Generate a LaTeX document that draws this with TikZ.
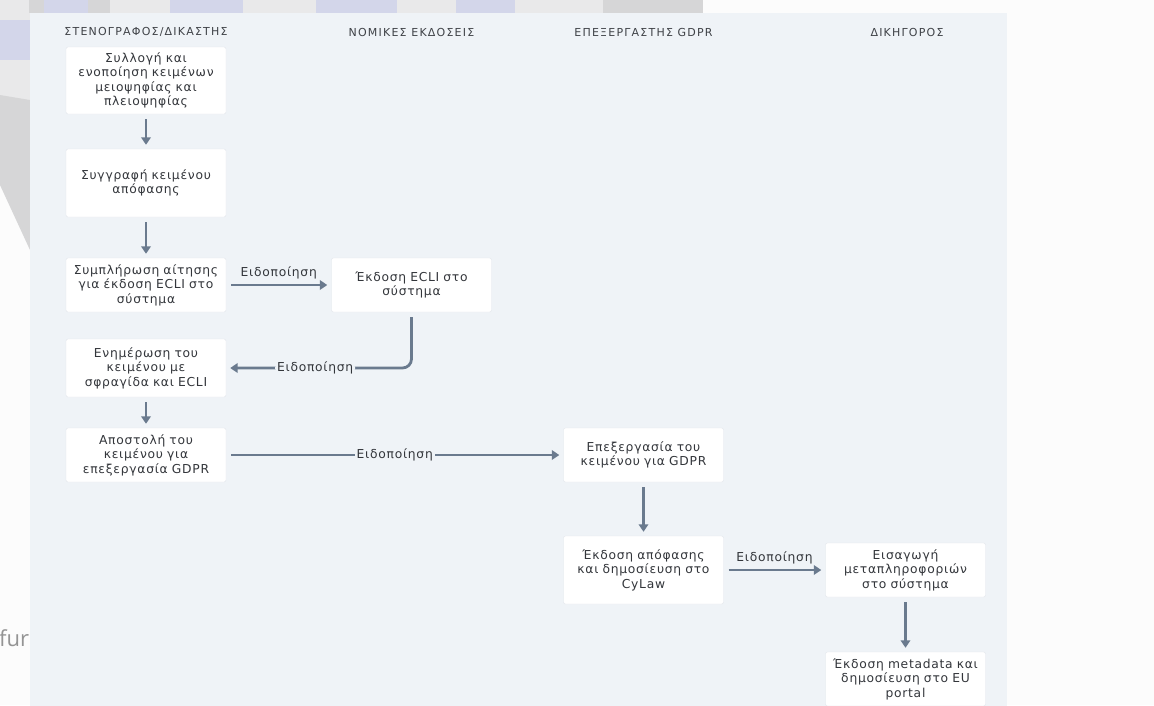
\documentclass[tikz,border=0pt]{standalone}
\usepackage{fontspec}
\setmainfont{DejaVu Sans}
\newfontfamily\boxfont[LetterSpace=6]{DejaVu Sans}
\newfontfamily\headfont[LetterSpace=11]{DejaVu Sans}
\newfontfamily\bgfont{Open Sans}
\usetikzlibrary{arrows.meta}
\definecolor{panel}{HTML}{EFF3F7}
\definecolor{txt}{HTML}{33363B}
\definecolor{hdr}{HTML}{3F4247}
\definecolor{arr}{HTML}{6A7A8E}
\definecolor{lav}{HTML}{D3D6EA}
\definecolor{lg}{HTML}{E9E9EA}
\definecolor{mg}{HTML}{D6D6D7}
\definecolor{edge}{HTML}{E2E6EB}
\tikzset{
  box/.style={fill=white, draw=edge, line width=0.4pt, rounded corners=2pt,
    minimum width=160pt, text width=158pt, align=center, inner sep=0pt,
    font=\boxfont\fontsize{12.3}{14.5}\selectfont, text=txt},
  hd/.style={font=\headfont\fontsize{11}{12}\selectfont, text=hdr, inner sep=0pt},
  conn/.style={draw=arr, line width=2.8pt, -{Triangle[length=7.5pt,width=9.5pt]},
    shorten <=5pt, shorten >=4pt},
  lbl/.style={font=\boxfont\fontsize{12.3}{12}\selectfont, text=txt, inner sep=2pt},
  onlbl/.style={lbl, fill=panel}
}
\begin{document}
\begin{tikzpicture}[x=1pt,y=-1pt]
\useasboundingbox (0,0) rectangle (1154,705);
\clip (0,0) rectangle (1154,705);
% background (blurred screenshot behind)
\fill[white!99!black] (0,0) rectangle (1154,705);
\fill[lg] (0,0) rectangle (30,100);
\fill[mg] (0,95) -- (30,100) -- (30,250) -- (0,185) -- cycle;
\fill[lav] (0,20) rectangle (30,60);
\fill[lg] (0,0) rectangle (29,13);
\fill[mg] (29,0) rectangle (44,13);
\fill[lav] (44,0) rectangle (88,13);
\fill[mg] (88,0) rectangle (110,13);
\fill[lg] (110,0) rectangle (170,13);
\fill[lav] (170,0) rectangle (243,13);
\fill[lg] (243,0) rectangle (316,13);
\fill[lav] (316,0) rectangle (397,13);
\fill[lg] (397,0) rectangle (456,13);
\fill[lav] (456,0) rectangle (515,13);
\fill[lg] (515,0) rectangle (603,13);
\fill[mg] (603,0) rectangle (703,13);
\node[anchor=base west, inner sep=0pt, font=\bgfont\fontsize{22}{24}\selectfont, text=black!42] (fur) at (-1,646) {fur};
% panel
\fill[panel] (30,13) rectangle (1007,710);
% headers
\node[hd] (h1) at (146,32) {ΣΤΕΝΟΓΡΑΦΟΣ/ΔΙΚΑΣΤΗΣ};
\node[hd] (h2) at (411.5,32) {ΝΟΜΙΚΕΣ ΕΚΔΟΣΕΙΣ};
\node[hd] (h3) at (643.5,32) {ΕΠΕΞΕΡΓΑΣΤΗΣ GDPR};
\node[hd] (h4) at (907,32) {ΔΙΚΗΓΟΡΟΣ};
% boxes
\node[box, minimum height=67pt] (b1) at (146,80.5) {Συλλογή και\\ενοποίηση κειμένων\\μειοψηφίας και\\πλειοψηφίας};
\node[box, minimum height=68pt] (b2) at (146,183) {Συγγραφή κειμένου\\απόφασης};
\node[box, minimum height=54pt] (b3) at (146,285) {Συμπλήρωση αίτησης\\για έκδοση ECLI στο\\σύστημα};
\node[box, minimum height=54pt] (e1) at (411.5,285) {Έκδοση ECLI στο\\σύστημα};
\node[box, minimum height=58pt] (b4) at (146,368) {Ενημέρωση του\\κειμένου με\\σφραγίδα και ECLI};
\node[box, minimum height=54pt] (b5) at (146,455) {Αποστολή του\\κειμένου για\\επεξεργασία GDPR};
\node[box, minimum height=54pt] (g1) at (643.5,455) {Επεξεργασία του\\κειμένου για GDPR};
\node[box, minimum height=68pt] (g2) at (643.5,570) {Έκδοση απόφασης\\και δημοσίευση στο\\CyLaw};
\node[box, minimum height=54pt] (l1) at (905.5,570) {Εισαγωγή\\μεταπληροφοριών\\στο σύστημα};
\node[box, minimum height=54pt] (l2) at (905.5,679) {Έκδοση metadata και\\δημοσίευση στο EU\\portal};
% connectors
\draw[conn] (b1) -- (b2);
\draw[conn] (b2) -- (b3);
\draw[conn] (b3) -- node[lbl, above=3pt] {Ειδοποίηση} (e1);
\draw[conn, rounded corners=9pt] (e1.south) |- node[onlbl, pos=0.76] {Ειδοποίηση} (b4.east);
\draw[conn] (b4) -- (b5);
\draw[conn] (b5) -- node[onlbl] {Ειδοποίηση} (g1);
\draw[conn] (g1) -- (g2);
\draw[conn] (g2) -- node[lbl, above=3pt] {Ειδοποίηση} (l1);
\draw[conn] (l1) -- (l2);
\end{tikzpicture}
\end{document}
